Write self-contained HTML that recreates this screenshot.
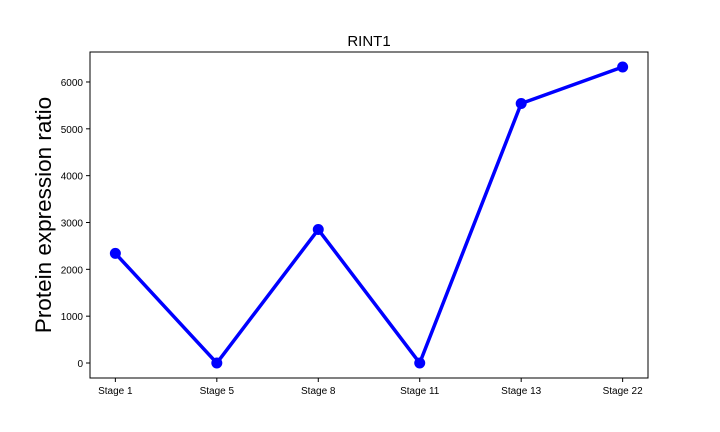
<!DOCTYPE html>
<html><head><meta charset="utf-8"><style>
body{margin:0;background:#fff;}
svg{display:block;font-family:"Liberation Sans","DejaVu Sans",sans-serif;}
</style></head><body>
<svg id="chart" width="720" height="432">
</svg>
<script>
const categories=["Stage 1","Stage 5","Stage 8","Stage 11","Stage 13","Stage 22"];
const values=[2340,0,2850,0,5540,6320];
const yTicks=[0,1000,2000,3000,4000,5000,6000];
const title="RINT1";
const yLabel="Protein expression ratio";

const NS="http://www.w3.org/2000/svg";
const svg=document.getElementById('chart');
const L=90,R=648,T=52,B=378;
const xMin=-0.25,xMax=categories.length-1+0.25;
const yMin=-320,yMax=6640;
const xs=i=>L+(i-xMin)/(xMax-xMin)*(R-L);
const ys=v=>B-(v-yMin)/(yMax-yMin)*(B-T);
function mk(tag,attrs,text){const e=document.createElementNS(NS,tag);for(const k in attrs)e.setAttribute(k,attrs[k]);if(text!==undefined)e.textContent=text;svg.appendChild(e);return e;}

const frame=mk('rect',{x:L,y:T,width:R-L,height:B-T,fill:'none',stroke:'#000','stroke-width':1});



yTicks.forEach(v=>{
  const y=ys(v);
  const t=mk('line',{x1:L-4,x2:L,y1:y,y2:y,stroke:'#000'});
  
  
  const lb=mk('text',{x:L-7,y:y+4,'text-anchor':'end','font-size':10},String(v));
  
  
});
categories.forEach((c,i)=>{
  const x=xs(i);
  const t=mk('line',{x1:x,x2:x,y1:B,y2:B+4,stroke:'#000'});
  
  
  const lb=mk('text',{x:x,y:B+16,'text-anchor':'middle','font-size':10},c);
  
  
});
const pts=values.map((v,i)=>xs(i)+','+ys(v)).join(' ');
const line=mk('polyline',{points:pts,fill:'none',stroke:'#0000ff','stroke-width':3.5,'stroke-linejoin':'round'});


values.forEach((v,i)=>{
  const c=mk('circle',{cx:xs(i),cy:ys(v),r:5.5,fill:'#0000ff'});
  
  
});
const tt=mk('text',{x:(L+R)/2,y:46,'text-anchor':'middle','font-size':15},title);


const yl=mk('text',{x:0,y:0,'text-anchor':'middle','font-size':22.5,transform:`translate(51,${(T+B)/2}) rotate(-90)`},yLabel);


</script>
</body></html>
